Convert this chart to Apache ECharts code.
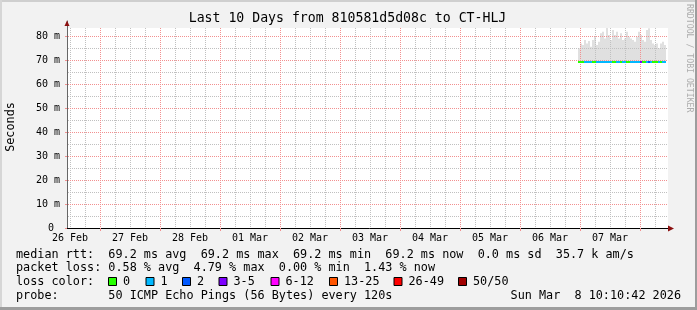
<!DOCTYPE html>
<html>
<head>
<meta charset="utf-8">
<script src="https://cdn.jsdelivr.net/npm/echarts@6/dist/echarts.min.js"></script>
<style>
html,body{margin:0;padding:0;background:#f2f2f2;}
#chart{width:697px;height:310px;}
</style>
</head>
<body>
<div id="chart"></div>
<script>
// ---- data (x = hours since 26 Feb 00:00) ----
const dayLabels = ['26 Feb','27 Feb','28 Feb','01 Mar','02 Mar','03 Mar','04 Mar','05 Mar','06 Mar','07 Mar'];
const dayLabelHours = [12,36,60,84,108,132,156,180,204,228];
const dayBoundaryHours = [24,48,72,96,120,144,168,192,216,240];
const sixHourHours = [12,18,30,36,42,54,60,66,78,84,90,102,108,114,126,132,138,150,156,162,174,180,186,198,204,210,222,228,234,246];
const yTickValues = [0,10,20,30,40,50,60,70,80];
const yMinorValues = [5,15,25,35,45,55,65,75];
const yMajorValues = [10,20,30,40,50,60,70,80];

const sampleHours = [215.2,216.0,216.8,217.6,218.4,219.2,220.0,220.8,221.6,222.4,223.2,224.0,224.8,225.6,226.4,227.2,228.0,228.8,229.6,230.4,231.2,232.0,232.8,233.6,234.4,235.2,236.0,236.8,237.6,238.4,239.2,240.0,240.8,241.6,242.4,243.2,244.0,244.8,245.6,246.4,247.2,248.0,248.8,249.6];
const medianRtt = [69.2,69.2,69.2,69.2,69.2,69.2,69.2,69.2,69.2,69.2,69.2,69.2,69.2,69.2,69.2,69.2,69.2,69.2,69.2,69.2,69.2,69.2,69.2,69.2,69.2,69.2,69.2,69.2,69.2,69.2,69.2,69.2,69.2,69.2,69.2,69.2,69.2,69.2,69.2,69.2,69.2,69.2,69.2,69.2];
const minRtt = [68.9,68.9,68.9,68.9,68.9,68.9,68.9,68.9,68.9,68.9,68.9,68.9,68.9,68.9,68.9,68.9,68.9,68.9,68.9,68.9,68.9,68.9,68.9,68.9,68.9,68.9,68.9,68.9,68.9,68.9,68.9,68.9,68.9,68.9,68.9,68.9,68.9,68.9,68.9,68.9,68.9,68.9,68.9,68.9];
const maxRtt = [74.9,76.9,76.2,78.3,76.9,77.9,75.5,78.3,79.7,76.2,77.6,81.1,81.8,79.0,83.3,80.4,78.3,82.5,80.4,81.8,79.0,81.1,78.3,79.0,81.8,79.7,79.0,78.3,77.6,79.7,81.8,80.4,78.3,77.6,82.5,83.2,78.3,76.9,76.2,76.9,74.9,76.9,77.6,76.2];
const lossCount = [0,0,0,1,1,1,1,0,0,1,1,1,1,1,1,1,1,0,0,1,1,0,1,1,0,0,1,1,1,1,1,4,0,0,1,2,1,0,0,0,1,0,1,1];

const lossLegend = ['0','1','2','3-5','6-12','13-25','26-49','50/50'];
const lossColors = ['#26ff00','#00b8ff','#0059ff','#7e00ff','#ff00ff','#ff5500','#ff0000','#a10000'];

const xMin = 10.8, xCanvasMax = 250.8, xAxisMax = 252.8;
const yCanvasMax = 83.33, yAxisMax = 86.25;

function lossIndex(n){
  if(n<=0) return 0; if(n===1) return 1; if(n===2) return 2;
  if(n<=5) return 3; if(n<=12) return 4; if(n<=25) return 5; if(n<=49) return 6; return 7;
}
function stepEnd(i){ return i+1 < sampleHours.length ? sampleHours[i+1] : sampleHours[i] + 0.8; }

const smokeData = sampleHours.map((h,i)=>[h, minRtt[i], maxRtt[i], stepEnd(i)]);
const medianData = sampleHours.map((h,i)=>[h, medianRtt[i], lossCount[i], stepEnd(i)]);
const gridData = []
  .concat(yMinorValues.map(v=>[xMin, v, 0, 0]))
  .concat(sixHourHours.map(v=>[v, 0, 0, 1]))
  .concat(yMajorValues.map(v=>[xMin, v, 1, 0]))
  .concat(dayBoundaryHours.map(v=>[v, 0, 1, 1]));

// dotted line patterns (1 px on, 1 px off)
function makeDots(color, horiz){
  const c = document.createElement('canvas');
  c.width = horiz ? 2 : 1; c.height = horiz ? 1 : 2;
  const ctx = c.getContext('2d'); ctx.fillStyle = color; ctx.fillRect(0,0,1,1);
  return c;
}
const GRAY = '#c0c0c0', RED = '#f29090';
const dotPatterns = {
  h0: makeDots(GRAY, true), v0: makeDots(GRAY, false),
  h1: makeDots(RED, true),  v1: makeDots(RED, false)
};

const MONO = '"DejaVu Sans Mono", monospace';
const chart = echarts.init(document.getElementById('chart'), null, {renderer:'canvas'});

const g = [];
g.push({type:'rect', shape:{x:0,y:0,width:697,height:2}, style:{fill:'#cfcfcf'}, z:-5});
g.push({type:'rect', shape:{x:0,y:0,width:2,height:310}, style:{fill:'#d6d6d6'}, z:-5});
g.push({type:'rect', shape:{x:695,y:0,width:2,height:310}, style:{fill:'#9d9d9d'}, z:-5});
g.push({type:'rect', shape:{x:0,y:307,width:697,height:3}, style:{fill:'#9d9d9d'}, z:-5});
g.push({type:'rect', shape:{x:67,y:28,width:601,height:200}, style:{fill:'#ffffff'}, z:-4});
g.push({type:'polygon', shape:{points:[[64.5,26],[69.5,26],[67,20.5]]}, style:{fill:'#8b1010'}, z:50});
g.push({type:'polygon', shape:{points:[[668,225.5],[668,231.5],[674,228.5]]}, style:{fill:'#8b1010'}, z:50});
g.push({type:'text', x:347.5, y:19, style:{text:'Last 10 Days from 810581d5d08c to CT-HLJ', fontFamily:MONO, fontSize:13.2, fill:'#000', align:'center', verticalAlign:'middle'}});
g.push({type:'text', x:10.5, y:127, rotation:Math.PI/2, style:{text:'Seconds', fontFamily:MONO, fontSize:11.8, fill:'#000', align:'center', verticalAlign:'middle'}});
g.push({type:'text', x:689, y:4, rotation:-Math.PI/2, style:{text:'RRDTOOL / TOBI OETIKER', fontFamily:MONO, fontSize:8.2, fill:'#adadad', align:'left', verticalAlign:'middle'}});
const rows = [254.5, 268.3, 282, 295.8];
const legendStyle = {fontFamily:MONO, fontSize:11.8, fill:'#000', align:'left', verticalAlign:'middle'};
g.push({type:'text', x:16, y:rows[0], style:Object.assign({text:'median rtt:  69.2 ms avg  69.2 ms max  69.2 ms min  69.2 ms now  0.0 ms sd  35.7 k am/s'}, legendStyle)});
g.push({type:'text', x:16, y:rows[1], style:Object.assign({text:'packet loss: 0.58 % avg  4.79 % max  0.00 % min  1.43 % now'}, legendStyle)});
g.push({type:'text', x:16, y:rows[2], style:Object.assign({text:'loss color:'}, legendStyle)});
g.push({type:'text', x:16, y:rows[3], style:Object.assign({text:'probe:       50 ICMP Echo Pings (56 Bytes) every 120s'}, legendStyle)});
g.push({type:'text', x:681, y:rows[3], style:Object.assign({text:'Sun Mar  8 10:10:42 2026'}, legendStyle, {align:'right'})});
const boxX = [108.5,146,182.5,219,271,329.5,394,458.5];
lossLegend.forEach((t,i)=>{
  g.push({type:'rect', shape:{x:boxX[i],y:277.5,width:8,height:8}, style:{fill:lossColors[i], stroke:'#000', lineWidth:1}});
  g.push({type:'text', x:boxX[i]+14.5, y:rows[2], style:Object.assign({text:t}, legendStyle)});
});

const option = {
  backgroundColor:'#f2f2f2',
  animation:false,
  grid:{left:67, top:21, right:25, bottom:82, containLabel:false},
  xAxis:{
    type:'value', min:xMin, max:xAxisMax,
    axisLine:{show:true, lineStyle:{color:'#000', width:1}},
    axisTick:{show:true, customValues:dayBoundaryHours, length:3, lineStyle:{color:RED}},
    axisLabel:{show:true, customValues:dayLabelHours, margin:5, fontFamily:MONO, fontSize:10, color:'#000',
      formatter:(v)=>{ const k = dayLabelHours.indexOf(Math.round(v)); return k>=0 ? dayLabels[k] : ''; }},
    splitLine:{show:false}
  },
  yAxis:{
    type:'value', min:0, max:yAxisMax,
    axisLine:{show:true, lineStyle:{color:'#666', width:1}},
    axisTick:{show:true, customValues:yTickValues, length:2, lineStyle:{color:RED}},
    axisLabel:{show:true, customValues:yTickValues, margin:7, fontFamily:MONO, fontSize:10, color:'#000',
      formatter:(v)=> v===0 ? '0 ' : (Math.round(v)+' m')},
    splitLine:{show:false}
  },
  graphic:{elements:g},
  series:[
    {
      type:'custom', name:'smoke', z:2, silent:true,
      data:smokeData,
      renderItem:(params, api)=>{
        const x0 = api.value(0), lo = api.value(1), hi = Math.min(api.value(2), yCanvasMax), x1 = api.value(3);
        const p0 = api.coord([x0, hi]); const p1 = api.coord([x1, lo]);
        return {type:'rect', shape:{x:p0[0], y:p0[1], width:p1[0]-p0[0], height:p1[1]-p0[1]}, style:{fill:'#e0e0e0'}};
      }
    },
    {
      type:'custom', name:'grid', z:5, silent:true,
      data:gridData,
      renderItem:(params, api)=>{
        const x = api.value(0), y = api.value(1), kind = api.value(2), orient = api.value(3);
        let shape, img;
        if (orient === 0) {
          const a = api.coord([xMin, y]), b = api.coord([xCanvasMax, y]);
          shape = {x:Math.round(a[0]), y:Math.floor(a[1]), width:Math.round(b[0]-a[0]), height:1};
          img = kind === 1 ? dotPatterns.h1 : dotPatterns.h0;
        } else {
          const a = api.coord([x, 0]), b = api.coord([x, yCanvasMax]);
          shape = {x:Math.floor(a[0]), y:Math.round(b[1]), width:1, height:Math.round(a[1]-b[1])};
          img = kind === 1 ? dotPatterns.v1 : dotPatterns.v0;
        }
        return {type:'rect', shape:shape, style:{fill:{image:img, repeat:'repeat'}}};
      }
    },
    {
      type:'custom', name:'median', z:10, silent:true,
      data:medianData,
      renderItem:(params, api)=>{
        const x0 = api.value(0), m = api.value(1), loss = api.value(2), x1 = api.value(3);
        const p0 = api.coord([x0, m]); const p1 = api.coord([x1, m]);
        return {type:'rect', shape:{x:p0[0], y:p0[1]-1, width:p1[0]-p0[0], height:2}, style:{fill:lossColors[lossIndex(loss)]}};
      }
    }
  ]
};
chart.setOption(option);
</script>
</body>
</html>
